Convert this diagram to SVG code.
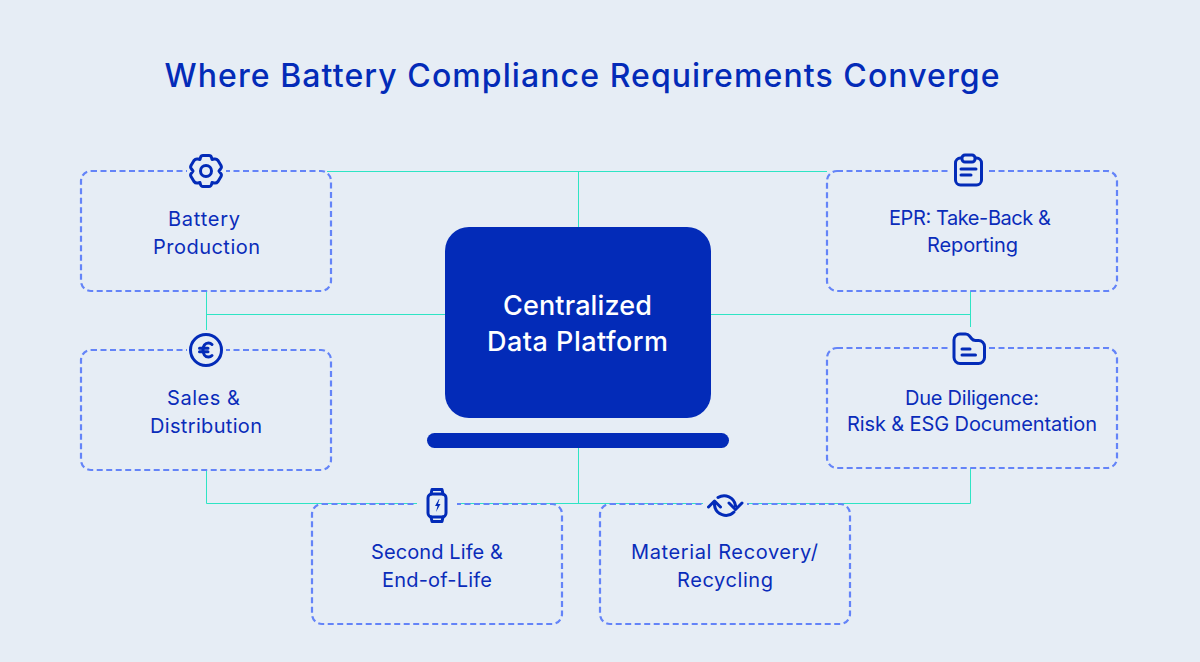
<svg xmlns="http://www.w3.org/2000/svg" width="1200" height="662" viewBox="0 0 1200 662">
<style>
.bg{fill:#e6edf5}
.box{fill:none;stroke:#6484f8;stroke-width:2.200;stroke-dasharray:6 3.500}
.c{fill:none;stroke:#2ee4c4;stroke-width:1}
.t{font-family:"Inter","Noto Sans",sans-serif;font-size:20px;fill:#0a2cba;text-anchor:middle}
.h{font-family:"Inter","Noto Sans",sans-serif;font-size:27px;font-weight:500;fill:#fff;text-anchor:middle}
.i{fill:none;stroke:#032bb8;stroke-width:3;stroke-linecap:round;stroke-linejoin:round}
</style>
<rect class="bg" width="1200" height="662"/>
<text x="582" y="87" font-family="Inter,'Noto Sans',sans-serif" font-size="32" font-weight="500" fill="#032bb8" text-anchor="middle" textLength="835" lengthAdjust="spacing">Where Battery Compliance Requirements Converge</text>
<g id="connectors">
<path class="c" d="M327 171.500H827M578.500 171V227M206.500 291V330M206 314.500H445M711 314.500H970.500M970.500 291V327M578.500 447V503.500M206.500 470V503.500H970.500V468"/>
</g>
<g id="battery-production">
<rect class="box" x="81" y="171" width="250" height="120" rx="10"/>
<rect class="bg" x="187" y="160" width="39" height="22"/>
<path class="i" transform="translate(206 171)" d="M-6 -11.500L-5.500 -13.500Q-5 -15.500 -3 -15.500H3Q5 -15.500 5.500 -13.500L6 -11.500L8 -12Q10.500 -12.500 12 -10.500L15 -5.500Q16 -3.500 14.500 -2L13 0L14.500 2Q16 3.500 15 5.500L12 10.500Q10.500 12.500 8 12L6 11.500L5.500 13.500Q5 15.500 3 15.500H-3Q-5 15.500 -5.500 13.500L-6 11.500L-8 12Q-10.500 12.500 -12 10.500L-15 5.500Q-16 3.500 -14.500 2L-13 0L-14.500 -2Q-16 -3.500 -15 -5.500L-12 -10.500Q-10.500 -12.500 -8 -12Z"/>
<circle class="i" cx="206" cy="171" r="5.500"/>
<text class="t" x="204" y="226" textLength="72">Battery</text>
<text class="t" x="206.500" y="254" textLength="107">Production</text>
</g>
<g id="epr">
<rect class="box" x="827" y="171" width="290" height="120" rx="10"/>
<rect class="bg" x="949" y="160" width="40" height="22"/>
<rect class="i" x="955.500" y="158" width="26" height="27" rx="5"/>
<rect class="bg" x="961" y="154" width="15" height="9"/>
<rect class="i" x="962" y="155" width="13" height="7" rx="3"/>
<path class="i" d="M961 169h15M961 175h10" stroke-width="2.400"/>
<text class="t" x="970" y="225" textLength="162">EPR: Take-Back &amp;</text>
<text class="t" x="972.500" y="252" textLength="91">Reporting</text>
</g>
<g id="sales-distribution">
<rect class="box" x="81" y="350" width="250" height="120" rx="10"/>
<rect class="bg" x="187" y="339" width="39" height="22"/>
<circle class="i" cx="206" cy="350" r="15.500"/>
<path class="i" d="M212 344.500c-1-1-2.200-1.500-3.500-1.500-3.400 0-5.500 3-5.500 7s2.100 7 5.500 7c1.300 0 2.500-.5 3.500-1.500M199.500 348.200h8.500M199.500 351.800h8.500" stroke-width="2.200"/>
<text class="t" x="203.500" y="405" textLength="73">Sales &amp;</text>
<text class="t" x="206" y="433" textLength="112">Distribution</text>
</g>
<g id="due-diligence">
<rect class="box" x="827" y="348" width="290" height="120" rx="10"/>
<rect class="bg" x="949" y="337" width="40" height="22"/>
<path class="i" d="M954 340a6 6 0 0 1 6-6h5.500a5 5 0 0 1 4 2l2 2.500a5 5 0 0 0 4 2h3a6 6 0 0 1 6 6v11a6 6 0 0 1-6 6h-18.500a6 6 0 0 1-6-6z"/>
<path class="i" d="M962 349h8M962 355h13.500" stroke-width="2.400"/>
<text class="t" x="972" y="405" textLength="134">Due Diligence:</text>
<text class="t" x="972" y="431" textLength="250">Risk &amp; ESG Documentation</text>
</g>
<g id="second-life">
<rect class="box" x="312" y="504" width="250" height="120" rx="10"/>
<rect class="bg" x="417" y="493" width="40" height="22"/>
<rect class="i" x="428" y="494" width="18" height="23" rx="4"/>
<path class="i" d="M431 494l1-4.500h10l1 4.500M431 517l1 4.500h10l1-4.500"/>
<path d="M439 499l-4 7h2.500l-1.500 6 4.500-8h-2.500l1.500-5z" fill="#032bb8"/>
<text class="t" x="437" y="559" textLength="132">Second Life &amp;</text>
<text class="t" x="437" y="587" textLength="110">End-of-Life</text>
</g>
<g id="material-recovery">
<rect class="box" x="600" y="504" width="250" height="120" rx="10"/>
<rect class="bg" x="703" y="493" width="44" height="22"/>
<path class="i" d="M718 497.500a11.500 11.500 0 0 1 17.500 8M714.500 502v3a11.500 11.500 0 0 0 19.500 7M708.500 507l6-6 6 6M742 503l-6.500 6.500-6.500-6.500" stroke-width="3.200"/>
<text class="t" x="724.500" y="559" textLength="187">Material Recovery/</text>
<text class="t" x="725" y="587" textLength="96">Recycling</text>
</g>
<g id="central-platform">
<rect x="445" y="227" width="266" height="191" rx="24" fill="#032bb8"/>
<rect x="427" y="433" width="302" height="15" rx="7.500" fill="#032bb8"/>
<text class="h" x="577.500" y="315" textLength="149">Centralized</text>
<text class="h" x="577.500" y="351" textLength="181">Data Platform</text>
</g>
</svg>
